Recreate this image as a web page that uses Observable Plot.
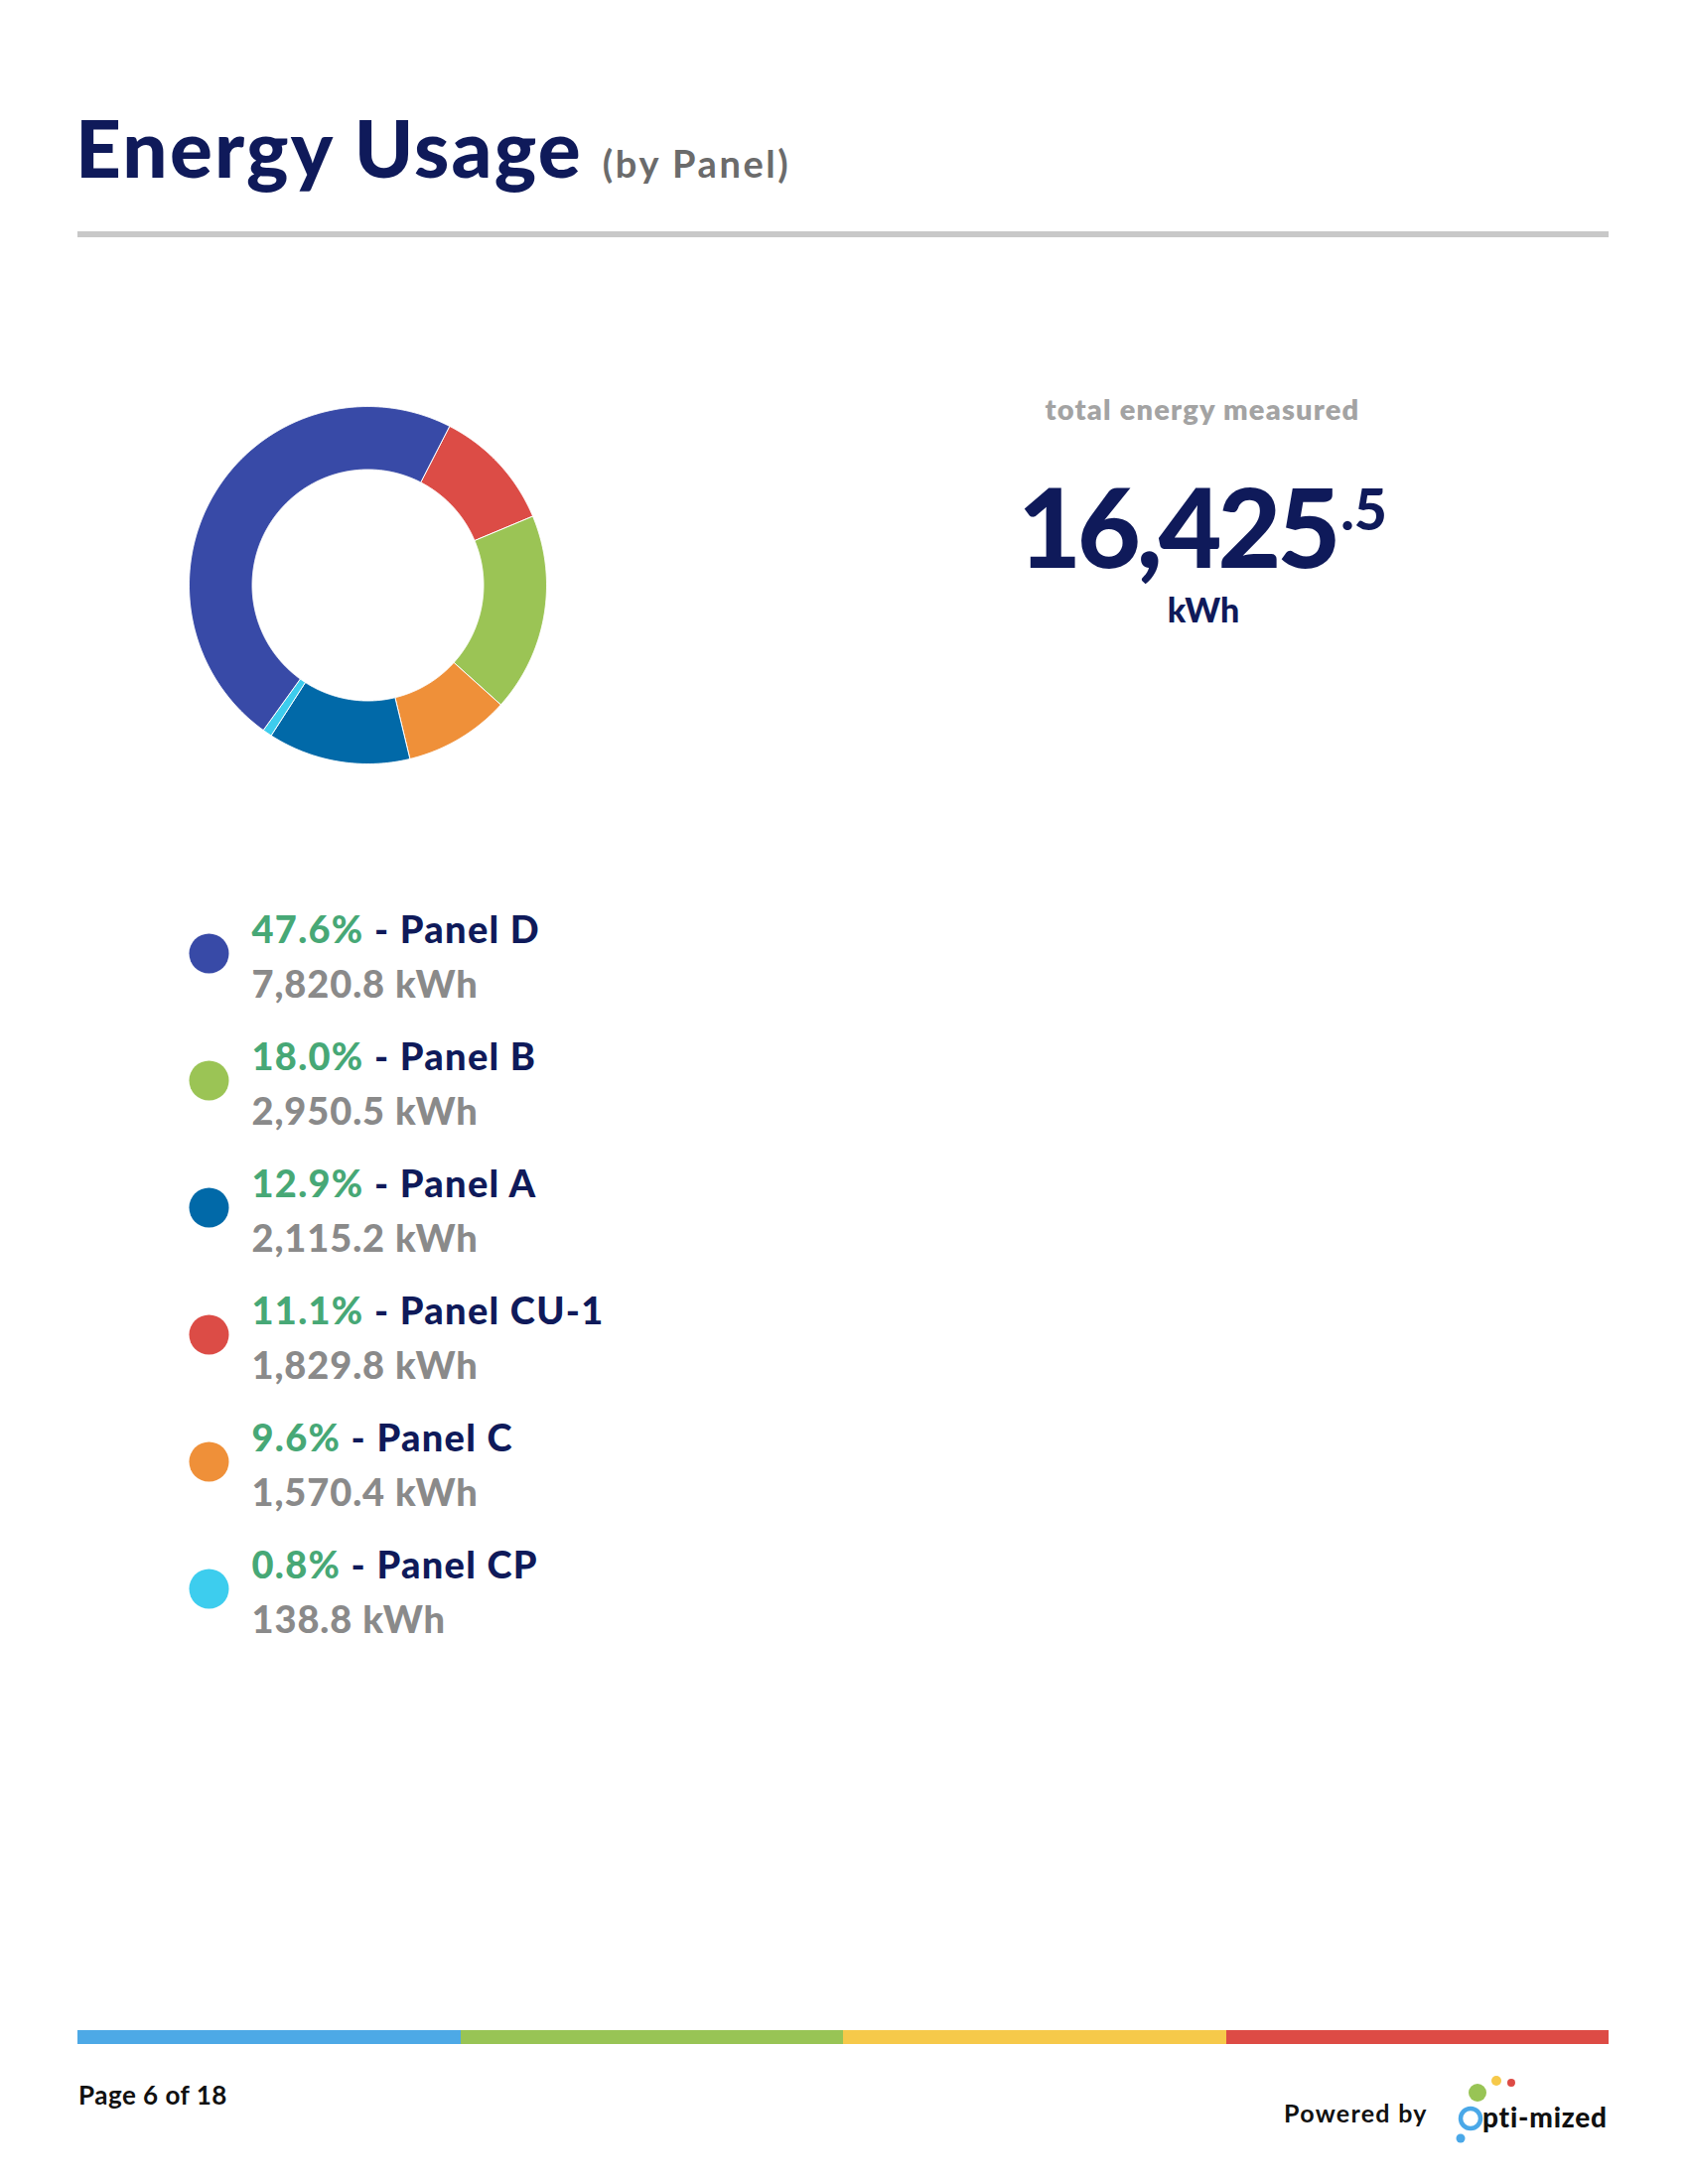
<!DOCTYPE html>
<html><head><meta charset="utf-8">
<script src="https://cdn.jsdelivr.net/npm/d3@7"></script>
<script src="https://cdn.jsdelivr.net/npm/@observablehq/plot@0.6"></script>
<style>
html,body{margin:0;padding:0;background:#fff;}
body{width:1700px;height:2200px;position:relative;overflow:hidden;font-family:Lato,"Noto Sans",sans-serif;}
.abs{position:absolute;line-height:1;white-space:nowrap;}
</style></head><body>
<script>
// ---- data ----
const panels = ["Panel D", "Panel B", "Panel A", "Panel CU-1", "Panel C", "Panel CP"];
const kwh = [7820.8, 2950.5, 2115.2, 1829.8, 1570.4, 138.8];
const pct = [47.6, 18.0, 12.9, 11.1, 9.6, 0.8];
const colors = ["#384aa7", "#9bc455", "#0169a8", "#dc4c46", "#ef9039", "#3dcdee"];
const pieOrder = ["Panel CU-1", "Panel B", "Panel C", "Panel A", "Panel CP", "Panel D"]; // clockwise
const pieStartDeg = 27.2;
const totalKwh = 16425.5;
const title = "Energy Usage";
const subtitle = "(by Panel)";
const totalLabel = "total energy measured";
const unit = "kWh";
const pageLabel = "Page 6 of 18";
const footerColors = ["#4da9e6", "#98c455", "#f6c94a", "#dd4b45"];

const NAVY = "#0f1a5a", GREEN = "#47a876", GRAY = "#8a8a8a";
const FONT = "Lato, 'Noto Sans', sans-serif";

function place(html, {x, baseline, size, weight = 700, color = "#111", anchor = "start", extra = ""}) {
  const d = document.createElement("div");
  d.className = "abs";
  d.innerHTML = html;
  const top = baseline - 0.887 * size;
  let style = `top:${top}px;font-size:${size}px;font-weight:${weight};color:${color};${extra}`;
  if (anchor === "middle") style += `left:${x - 500}px;width:1000px;text-align:center;`;
  else style += `left:${x}px;`;
  d.setAttribute("style", style);
  document.body.appendChild(d);
  return d;
}

// header
place(`${title}<span style="font-size:38px;font-weight:700;color:#6b6b6b;margin-left:20px;letter-spacing:2.6px;">${subtitle}</span>`,
  {x: 76, baseline: 179, size: 80, weight: 900, color: NAVY, extra: "letter-spacing:2.2px;"});
const rule = document.createElement("div");
rule.setAttribute("style", "position:absolute;left:78px;top:233px;width:1542px;height:6px;background:#c8c8c8;");
document.body.appendChild(rule);

// ---- donut ----
const rows = panels.map((name, i) => ({name, kwh: kwh[i], pct: pct[i], color: colors[i]}));
const pieRows = pieOrder.map(n => rows.find(r => r.name === n));
const start = pieStartDeg * Math.PI / 180;
const arcs = d3.pie().sort(null).value(d => d.kwh).startAngle(start).endAngle(start + 2 * Math.PI)(pieRows);
const R1 = 180, R0 = 116.5;
const pts = [];
for (const a of arcs) {
  const span = a.endAngle - a.startAngle;
  const n = Math.max(2, Math.ceil(span / (Math.PI / 720)));
  const ring = [];
  for (let i = 0; i <= n; i++) { const t = a.startAngle + span * i / n; ring.push({name: a.data.name, x: R1 * Math.sin(t), y: R1 * Math.cos(t)}); }
  for (let i = n; i >= 0; i--) { const t = a.startAngle + span * i / n; ring.push({name: a.data.name, x: R0 * Math.sin(t), y: R0 * Math.cos(t)}); }
  ring.push(ring[0]);
  pts.push(...ring);
}
const donut = Plot.plot({
  width: 400, height: 400, margin: 0,
  x: {domain: [-200, 200], axis: null},
  y: {domain: [-200, 200], axis: null},
  color: {domain: panels, range: colors},
  marks: [Plot.line(pts, {x: "x", y: "y", z: "name", fill: "name", stroke: "white", strokeWidth: 1, curve: "linear"})]
});
const dw = document.createElement("div");
dw.setAttribute("style", "position:absolute;left:170px;top:389px;");
dw.appendChild(donut);
document.body.appendChild(dw);

// ---- legend ----
const fmt = d3.format(",.1f");
const legend = Plot.plot({
  width: 600, height: 800, marginLeft: 40, marginRight: 0, marginTop: 0, marginBottom: 0,
  y: {type: "point", domain: panels, range: [80, 720], padding: 0, axis: null},
  color: {domain: panels, range: colors},
  marks: [
    Plot.dot(rows, {y: "name", fill: "name", r: 20, frameAnchor: "left"}),
    Plot.text(rows, {y: "name", text: d => d.pct.toFixed(1) + "%", frameAnchor: "left", textAnchor: "start", lineAnchor: "bottom",
      dx: 43, dy: -11, fill: GREEN, fontSize: 38, fontWeight: 900, fontFamily: FONT}),
    Plot.text(rows, {y: "name", text: d => fmt(d.kwh) + " " + unit, frameAnchor: "left", textAnchor: "start", lineAnchor: "bottom",
      dx: 43, dy: 44, fill: GRAY, fontSize: 38, fontWeight: 900, fontFamily: FONT})
  ]
});
const tgs = legend.querySelectorAll('g[aria-label="text"]');
tgs[0].setAttribute("letter-spacing", "1.3");
tgs[1].setAttribute("letter-spacing", "0.9");
tgs[0].querySelectorAll("text").forEach((t, i) => {
  const ts = document.createElementNS("http://www.w3.org/2000/svg", "tspan");
  ts.setAttribute("fill", NAVY);
  ts.textContent = " - " + rows[i].name;
  t.appendChild(ts);
});
const lw = document.createElement("div");
lw.setAttribute("style", "position:absolute;left:170px;top:880px;");
lw.appendChild(legend);
document.body.appendChild(lw);

// ---- total ----
const intPart = d3.format(",")(Math.floor(totalKwh));
const decPart = d3.format(".1f")(totalKwh).slice(-2);
place(totalLabel, {x: 1211, baseline: 423, size: 29, weight: 800, color: "#a3a3a3", anchor: "middle", extra: "letter-spacing:1.2px;"});
place(`<span style="letter-spacing:-4px;">${intPart}</span><span style="font-size:57px;position:relative;top:-38px;margin-left:4px;">${decPart}</span>`,
  {x: 1211, baseline: 572, size: 110, weight: 900, color: NAVY, anchor: "middle"});
place(unit, {x: 1212, baseline: 627, size: 34, weight: 900, color: NAVY, anchor: "middle"});

// ---- footer ----
footerColors.forEach((c, i) => {
  const b = document.createElement("div");
  b.setAttribute("style", `position:absolute;left:${78 + i * 385.5}px;top:2045px;width:385.5px;height:14px;background:${c};`);
  document.body.appendChild(b);
});
place(pageLabel, {x: 79, baseline: 2120, size: 26, weight: 700, color: "#111", extra: "letter-spacing:0.5px;"});
place("Powered by", {x: 1293, baseline: 2138, size: 25, weight: 700, color: "#111", extra: "letter-spacing:1.3px;"});
place("pti-mized", {x: 1493, baseline: 2143, size: 28, weight: 900, color: "#111", extra: "letter-spacing:0.8px;"});
const logo = document.createElement("div");
logo.setAttribute("style", "position:absolute;left:1450px;top:2080px;");
logo.innerHTML = `<svg width="90" height="90" viewBox="1450 2080 90 90">
<circle cx="1481" cy="2134" r="10" fill="none" stroke="#4aa8e8" stroke-width="4.5"/>
<circle cx="1471" cy="2154" r="4.5" fill="#4aa8e8"/>
<circle cx="1488" cy="2108" r="9" fill="#98c455"/>
<circle cx="1507" cy="2096" r="5" fill="#f6c94a"/>
<circle cx="1522" cy="2098" r="4" fill="#dd4b45"/></svg>`;
document.body.appendChild(logo);
</script>
</body></html>
